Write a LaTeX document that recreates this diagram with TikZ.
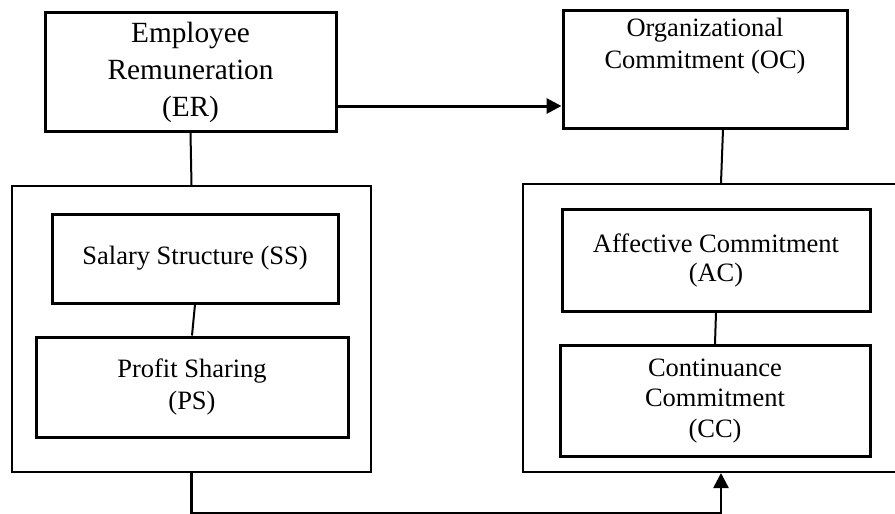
\documentclass[tikz,border=0pt]{standalone}
\usepackage{fontspec}
\setmainfont{Liberation Serif}
\usetikzlibrary{arrows.meta,positioning}

\begin{document}
\begin{tikzpicture}[
      x=1pt, y=-1pt,
      box/.style={draw, line width=3pt, align=center, inner sep=0pt, font=\fontsize{26.5}{32}\selectfont},
      frame/.style={draw, line width=2pt, inner sep=0pt},
      link/.style={line width=2pt},
      arr/.style={-{Triangle[length=15pt, width=15pt]}, line width=3pt}
    ]
      \clip (0,0) rectangle (895,514);

      % top row
      \node[box, minimum width=291, minimum height=119, font=\fontsize{29.3}{37}\selectfont] (er) at (190.5,72) {Employee\\Remuneration\\(ER)};
      \node[box, minimum width=284, minimum height=118,
            label={[anchor=north, align=center, inner sep=0pt, yshift=-9pt, font=\fontsize{26.5}{32}\selectfont]north:{Organizational\\Commitment (OC)}}] (oc) at (705,69) {};

      % groups
      \node[frame, minimum width=359, minimum height=286] (lout) at (191.5,329) {};
      \node[frame, minimum width=396, minimum height=288] (rout) at (721,328) {};

      \node[box, minimum width=286, minimum height=89] (ss) at (195,258.5) {Salary Structure (SS)};
      \node[box, minimum width=312, minimum height=100] (ps) at (192,387) {Profit Sharing\\(PS)};

      \node[box, minimum width=308, minimum height=102, font=\fontsize{26.5}{29}\selectfont] (ac) at (716,260) {Affective Commitment\\(AC)};
      \node[box, minimum width=310, minimum height=111, font=\fontsize{26.5}{30.5}\selectfont] (cc) at (715,401) {Continuance\\Commitment\\(CC)};

      \draw[arr] ([yshift=-34pt]er.east) -- ([yshift=-34pt]er.east -| oc.west);
      \draw[link] (er.south) -- (lout.north);
      \draw[link] ([xshift=18pt]oc.south) -- (rout.north);
      \draw[link] (ss.south) -- (ps.north);
      \draw[link] (ac.south) -- (cc.north);
      \draw[arr, line width=2.5pt] (lout.south) -- ++(0,40) -| (rout.south);
    \end{tikzpicture}
\end{document}
